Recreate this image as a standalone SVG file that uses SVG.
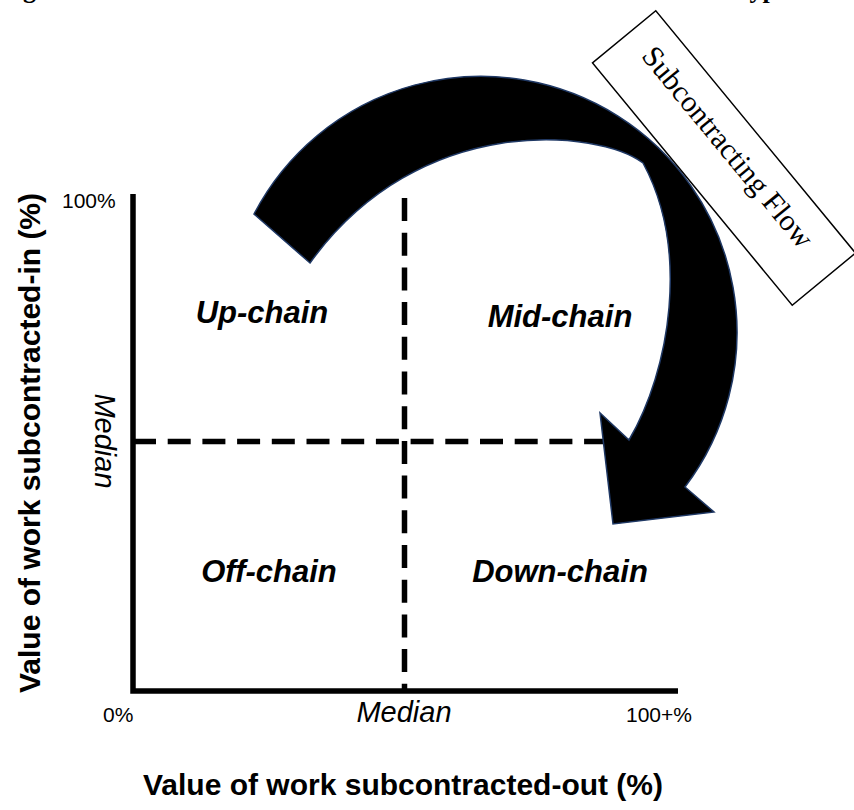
<svg xmlns="http://www.w3.org/2000/svg" width="854" height="810" viewBox="0 0 854 810">
<style>
.sans{font-family:"Liberation Sans",Arial,sans-serif;fill:#000}
.tick{font-size:21px}
.axtitle{font-size:30px;font-weight:bold}
.med{font-size:29px;font-style:italic}
.quad{font-size:31px;font-weight:bold;font-style:italic}
.serif{font-family:"Liberation Serif","Times New Roman",serif;fill:#000}
.axis{stroke:#000;stroke-width:5.5;fill:none}
.dash{stroke:#000;stroke-width:5.5;fill:none;stroke-dasharray:23 11.7}
</style>
<rect width="854" height="810" fill="#fff"/>
<g id="title-fragment">
<text class="serif" x="0" y="-2" font-size="26" font-weight="bold">Figure</text>
<text class="serif" x="734" y="-2" font-size="26" font-weight="bold">Types</text>
</g>
<g id="axes">
<polyline class="axis" points="133,194 133,691 678,691"/>
</g>
<g id="median-lines">
<line class="dash" x1="404.5" y1="198" x2="404.5" y2="689"/>
<line class="dash" x1="133" y1="441.5" x2="640" y2="441.5"/>
</g>
<g id="connectors">
<path id="flow-arrow" d="M254,214 A256,256 0 1 1 685,487 L714,512 L613,524 L600,413 L629,440 C670,370 690,250 643,163 C600,130 420,110 310,263 Z" fill="#000" stroke="#1f3864" stroke-width="1.5" stroke-linejoin="miter"/>
</g>
<g id="flow-label" transform="translate(724,158) rotate(50.5)">
<rect x="-157" y="-41" width="314" height="82" fill="#fff" stroke="#000" stroke-width="1.5"/>
<text class="serif" x="-6" y="0" font-size="30" text-anchor="middle">Subcontracting Flow</text>
</g>
<g id="axis-labels">
<text class="sans tick" x="62" y="208">100%</text>
<text class="sans tick" x="103" y="722">0%</text>
<text class="sans tick" x="692" y="722" text-anchor="end">100+%</text>
<text class="sans med" x="404" y="722" text-anchor="middle">Median</text>
<text class="sans med" transform="translate(95,441) rotate(90)" text-anchor="middle">Median</text>
<text class="sans axtitle" transform="translate(40,443) rotate(-90)" text-anchor="middle">Value of work subcontracted-in (%)</text>
<text class="sans axtitle" x="403" y="795" text-anchor="middle">Value of work subcontracted-out (%)</text>
</g>
<g id="node-up-chain"><text class="sans quad" x="262" y="323" text-anchor="middle">Up-chain</text></g>
<g id="node-mid-chain"><text class="sans quad" x="560" y="327" text-anchor="middle">Mid-chain</text></g>
<g id="node-off-chain"><text class="sans quad" x="269" y="582" text-anchor="middle">Off-chain</text></g>
<g id="node-down-chain"><text class="sans quad" x="560" y="582" text-anchor="middle">Down-chain</text></g>
</svg>
